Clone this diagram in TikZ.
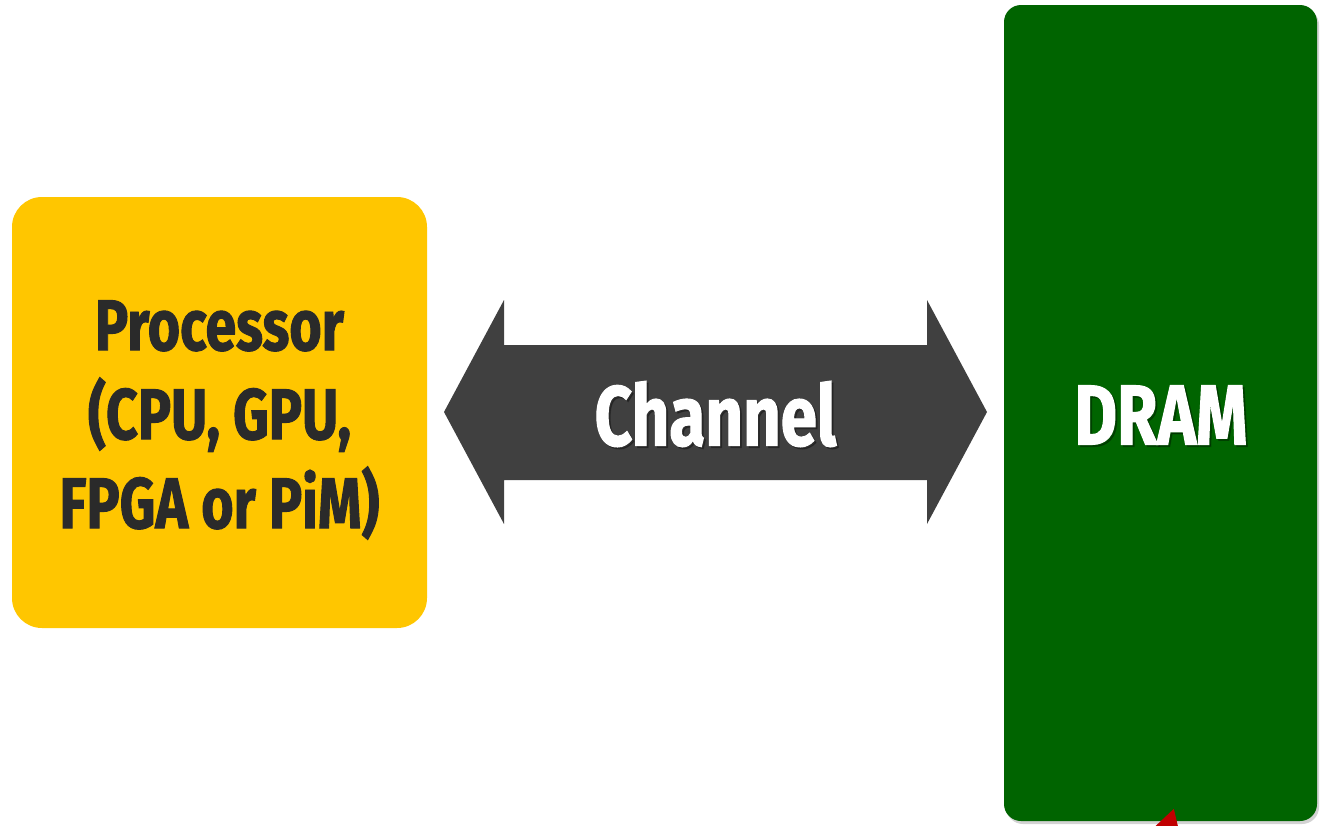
\documentclass[tikz,border=0pt]{standalone}
\usepackage{fontspec}
\usetikzlibrary{shadows,arrows.meta}
\newfontfamily\condfont[FakeStretch=0.77,BoldFeatures={FakeBold=1.3}]{Fira Sans}
\definecolor{procyellow}{HTML}{FFC600}
\definecolor{dramgreen}{HTML}{006400}
\definecolor{chgray}{HTML}{404040}
\definecolor{txtdark}{HTML}{2A2A2A}
\definecolor{tipred}{HTML}{C00000}

\begin{document}
\begin{tikzpicture}[x=1pt,y=-1pt,
  proc box/.style={fill=procyellow,rounded corners=30pt,minimum width=415pt,minimum height=431pt,inner sep=0pt},
  proc text/.style={align=center,text=txtdark,font=\condfont\bfseries\fontsize{72}{89}\selectfont},
  dram box/.style={fill=dramgreen,rounded corners=17pt,minimum width=313pt,minimum height=816pt,inner sep=0pt,
                   drop shadow={shadow xshift=2pt,shadow yshift=-3pt,opacity=0.35}},
  big text/.style={text=white,font=\condfont\bfseries\fontsize{85}{89}\selectfont},
  text shadow/.style={text=black,opacity=0.28,font=\condfont\bfseries\fontsize{85}{89}\selectfont}]
\useasboundingbox (0,0) rectangle (1320,825);

% Create the blocks
\node[proc box] (proc) at (219.5,412.5) {};
\node[proc text] (proclabel) at (219.5,420) {Processor\\(CPU, GPU,\\FPGA or PiM)};
\node[dram box] (dram) at (1160.5,413) {};

% The channel between them
\fill[chgray] (444,412) -- (504,300) -- (504,345) -- (927,345) -- (927,300) -- (987,412)
  -- (927,524) -- (927,480) -- (504,480) -- (504,524) -- cycle;
\coordinate (channel) at (715.5,414);

% Labels with their shadows
\node[text shadow] at ([xshift=2pt,yshift=-2pt]channel) {Channel};
\node[big text] (chlabel) at (channel) {Channel};
\node[text shadow] at ([xshift=2.5pt,yshift=-4pt]dram.center) {DRAM};
\node[big text] (dramlabel) at ([xshift=0.5pt,yshift=-2pt]dram.center) {DRAM};

% Pointer into the DRAM
\coordinate (ptail) at (1144,908);
\coordinate (phead) at ([xshift=13.5pt,yshift=13pt]dram.south);
\draw[tipred,line width=9pt,-{Triangle[length=36pt,width=38pt]}] (ptail) -- (phead);
\end{tikzpicture}
\end{document}
